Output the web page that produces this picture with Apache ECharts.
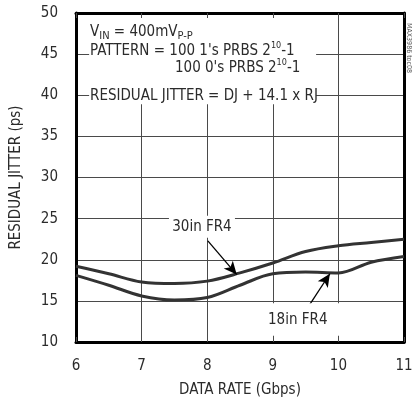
<!DOCTYPE html>
<html><head><meta charset="utf-8">
<script src="https://cdn.jsdelivr.net/npm/echarts@6/dist/echarts.min.js"></script>
<style>html,body{margin:0;padding:0;background:#fff}#c{width:412px;height:400px}</style>
</head><body><div id="c"></div>
<script>
const dataRate = [6, 6.5, 7, 7.5, 8, 8.5, 9, 9.5, 10, 10.5, 11];
const jitter30in = [19.2, 18.3, 17.3, 17.1, 17.4, 18.4, 19.6, 21.0, 21.7, 22.1, 22.5];
const jitter18in = [18.1, 16.9, 15.6, 15.1, 15.4, 16.9, 18.3, 18.5, 18.4, 19.7, 20.4];
const xTicks = [6, 7, 8, 9, 10, 11];
const yTicks = [10, 15, 20, 25, 30, 35, 40, 45, 50];
const seriesNames = ['30in FR4', '18in FR4'];

const FONT = '"Liberation Sans Narrow", "DejaVu Sans Condensed", "Roboto", sans-serif';
const INK = '#2b2b2b';
const GRIDC = '#4a4a4a';

const chart = echarts.init(document.getElementById('c'), null, {renderer: 'canvas'});
const pair = (xs, ys) => xs.map((x, i) => [x, ys[i]]);

const baseX = {type: 'value', min: xTicks[0], max: xTicks[xTicks.length - 1], interval: 1};
const baseY = {type: 'value', min: yTicks[0], max: yTicks[yTicks.length - 1], interval: 5};

const option = {
  animation: false,
  backgroundColor: '#fff',
  grid: {left: 76, right: 8, top: 13, bottom: 58, containLabel: false, outerBoundsMode: 'none'},
  xAxis: [
    Object.assign({}, baseX, {
      position: 'bottom',
      name: 'DATA RATE (Gbps)', nameLocation: 'middle', nameGap: 41,
      nameTextStyle: {fontFamily: FONT, fontSize: 15, color: INK},
      axisLine: {show: true, lineStyle: {color: '#000', width: 3}},
      axisTick: {show: true, inside: true, length: 5, lineStyle: {color: GRIDC}},
      axisLabel: {fontFamily: FONT, fontSize: 15, color: INK, margin: 17},
      splitLine: {show: true, lineStyle: {color: GRIDC, width: 1}}
    }),
    Object.assign({}, baseX, {
      position: 'top',
      axisLine: {show: true, lineStyle: {color: '#000', width: 3}},
      axisTick: {show: true, inside: true, length: 5, lineStyle: {color: GRIDC}},
      axisLabel: {show: false},
      splitLine: {show: false}
    })
  ],
  yAxis: [
    Object.assign({}, baseY, {
      position: 'left',
      name: 'RESIDUAL JITTER (ps)', nameLocation: 'middle', nameGap: 52, nameRotate: 90,
      nameTextStyle: {fontFamily: FONT, fontSize: 15, color: INK},
      axisLine: {show: true, lineStyle: {color: '#000', width: 3}},
      axisTick: {show: false},
      axisLabel: {fontFamily: FONT, fontSize: 15, color: INK, margin: 18},
      splitLine: {show: true, lineStyle: {color: GRIDC, width: 1}}
    }),
    Object.assign({}, baseY, {
      position: 'right',
      axisLine: {show: true, lineStyle: {color: '#000', width: 3}},
      axisTick: {show: false},
      axisLabel: {show: false},
      splitLine: {show: false}
    })
  ],
  series: [
    {
      name: seriesNames[0], type: 'line', data: pair(dataRate, jitter30in),
      smooth: 0.35, showSymbol: false, xAxisIndex: 0, yAxisIndex: 0,
      lineStyle: {color: '#333', width: 3},
      markLine: {
        silent: true, symbol: ['none', 'arrow'], symbolSize: [9, 13],
        label: {show: false},
        lineStyle: {color: '#000', width: 1.3, type: 'solid'},
        data: [[{coord: [8.01, 22.3]}, {coord: [8.45, 18.2]}]]
      }
    },
    {
      name: seriesNames[1], type: 'line', data: pair(dataRate, jitter18in),
      smooth: 0.35, showSymbol: false, xAxisIndex: 0, yAxisIndex: 0,
      lineStyle: {color: '#333', width: 3},
      markLine: {
        silent: true, symbol: ['none', 'arrow'], symbolSize: [9, 13],
        label: {show: false},
        lineStyle: {color: '#000', width: 1.3, type: 'solid'},
        data: [[{coord: [9.54, 14.26]}, {coord: [9.87, 18.3]}]]
      }
    }
  ]
};
chart.setOption(option);

const px = (x, y) => chart.convertToPixel({xAxisIndex: 0, yAxisIndex: 0}, [x, y]);
const rich = {
  sub: {fontFamily: FONT, fontSize: 11, color: INK, verticalAlign: 'bottom', lineHeight: 11},
  sup: {fontFamily: FONT, fontSize: 9, color: INK, verticalAlign: 'top', lineHeight: 9}
};
const txt = (x, y, s, align) => ({
  type: 'text', z: 20, x: x, y: y,
  style: {text: s, fontFamily: FONT, fontSize: 15, fill: INK, align: align || 'left',
          verticalAlign: 'middle', lineHeight: 20, rich: rich}
});

const l30 = px(7.92, 24.0), l18 = px(9.38, 12.7);
const boxTL = px(6.2, 49.4), boxBR = px(9.66, 38.9);
const b18TL = px(8.8, 14.7), b18BR = px(10.08, 10.75);
chart.setOption({
  graphic: [
    {type: 'rect', z: 15, shape: {x: boxTL[0], y: boxTL[1], width: boxBR[0] - boxTL[0], height: boxBR[1] - boxTL[1]}, style: {fill: '#fff'}},
    txt(90, 32, 'V{sub|IN} = 400mV{sub|P-P}'),
    txt(90, 51, 'PATTERN = 100 1\'s PRBS 2{sup|10}-1'),
    txt(175, 68, '100 0\'s PRBS 2{sup|10}-1'),
    txt(90, 96, 'RESIDUAL JITTER = DJ + 14.1 x RJ'),
    {type: 'rect', z: 15, shape: {x: l30[0] - 33, y: l30[1] - 11, width: 66, height: 22}, style: {fill: '#fff'}},
    txt(l30[0], l30[1], seriesNames[0], 'center'),
    {type: 'rect', z: 15, shape: {x: b18TL[0], y: b18TL[1], width: b18BR[0] - b18TL[0], height: b18BR[1] - b18TL[1]}, style: {fill: '#fff'}},
    txt(l18[0], l18[1], seriesNames[1], 'center'),
    {type: 'text', z: 20, x: 409, y: 48, rotation: -Math.PI / 2,
     style: {text: 'MAX3986 toc08', fontFamily: FONT, fontSize: 7, fill: '#555', align: 'center', verticalAlign: 'middle'}}
  ]
});
</script></body></html>
